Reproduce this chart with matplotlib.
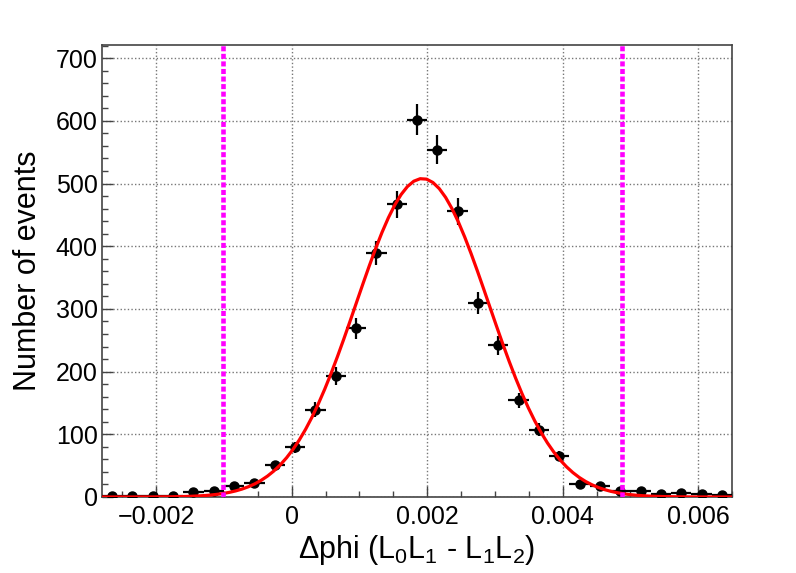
import numpy as np
import matplotlib
matplotlib.use("Agg")
import matplotlib.pyplot as plt
from matplotlib.ticker import MultipleLocator

plt.rcParams['font.family'] = ['Liberation Sans', 'DejaVu Sans']
plt.rcParams['mathtext.fontset'] = 'custom'
plt.rcParams['mathtext.rm'] = 'Liberation Sans'
plt.rcParams['mathtext.it'] = 'Liberation Sans:italic'

# -----------------------------------------------------------------------------
# histogram: 31 bins of 0.0003 from -0.0028 to 0.0065
bin_lo = -0.0028
bin_w = 0.0003
counts = [2, 2, 2, 2, 8, 9, 17, 22, 51, 79, 139, 193, 269, 389, 467, 602,
          554, 456, 310, 242, 154, 107, 66, 21, 17, 10, 9, 5, 6, 5, 3]

# gaussian fit parameters
fit_const = 508.0
fit_mean = 0.00193
fit_sigma = 0.00098

# selection window (mean +- 3 sigma)
cut_lo = -0.00101
cut_hi = 0.00487

# -----------------------------------------------------------------------------
counts = np.array(counts, dtype=float)
nb = len(counts)
centers = bin_lo + bin_w * (np.arange(nb) + 0.5)
xmin, xmax = bin_lo, bin_lo + nb * bin_w

fig = plt.figure(figsize=(7.96, 5.73), dpi=100)
ax = fig.add_axes([102/796, 1 - 497/573, 630/796, 452/573])

ax.errorbar(centers, counts, xerr=bin_w/2, yerr=np.sqrt(counts),
            fmt='o', color='black', ms=6.5, elinewidth=1.6, capsize=0, zorder=3)

xf = np.linspace(xmin, xmax, 100)
yf = fit_const * np.exp(-0.5 * ((xf - fit_mean) / fit_sigma) ** 2)
ax.plot(xf, yf, color='red', lw=2.3, zorder=4)

for xc in (cut_lo, cut_hi):
    ax.axvline(xc, color='#ff00ff', lw=3.3, ls=(0, (1.1, 0.55)), zorder=5)

ax.set_xlim(xmin, xmax)
ax.set_ylim(0, 721)

ax.xaxis.set_major_locator(MultipleLocator(0.002))
ax.xaxis.set_minor_locator(MultipleLocator(0.0005))
ax.yaxis.set_major_locator(MultipleLocator(100))
ax.yaxis.set_minor_locator(MultipleLocator(20))
ax.xaxis.set_major_formatter(plt.FuncFormatter(
    lambda v, p: '0' if abs(v) < 1e-9 else ('%.3f' % v).replace('-', '\u2212')))

ax.tick_params(which='both', direction='in', top=False, right=False,
               labelsize=18, width=1.0, color='#444444')
ax.tick_params(which='major', length=8)
ax.tick_params(which='minor', length=4)
ax.tick_params(axis='x', which='major', pad=6)
ax.tick_params(axis='y', which='major', pad=3)
ax.grid(True, which='major', color='#777777', ls=(0, (1, 1.6)), lw=1.0, zorder=0)
ax.set_axisbelow(True)
for s in ax.spines.values():
    s.set_color('#444444')
    s.set_linewidth(1.2)

fig.text(28/796, 1 - 271/573, 'Number of events', rotation=90,
         ha='center', va='center', fontsize=22)
fig.text(417/796, 1 - 550/573, r'$\Delta$phi (L$_0$L$_1$ - L$_1$L$_2$)',
         ha='center', va='center', fontsize=22)

fig.savefig('out.png', dpi=100)
